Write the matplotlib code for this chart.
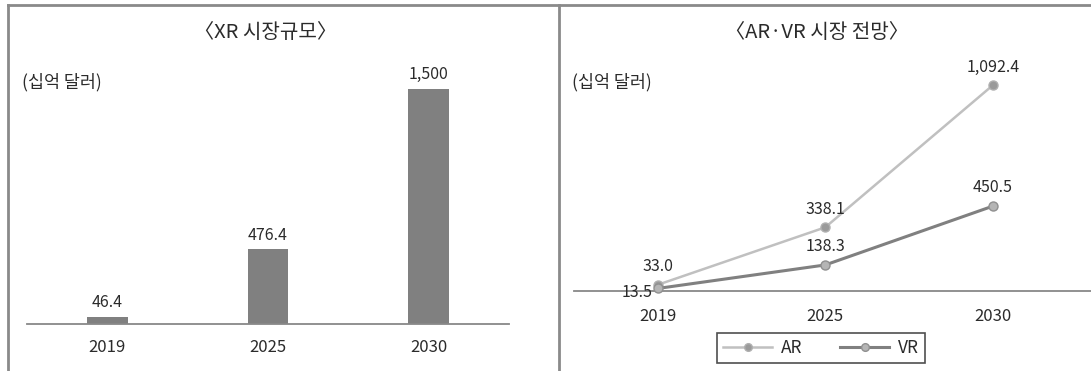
import matplotlib.pyplot as plt
from matplotlib.lines import Line2D

plt.rcParams['font.family'] = ['Noto Sans CJK KR', 'DejaVu Sans']

years = ['2019', '2025', '2030']
xr_size = [46.4, 476.4, 1500]
xr_labels = ['46.4', '476.4', '1,500']
ar_vals = [33.0, 338.1, 1092.4]
vr_vals = [13.5, 138.3, 450.5]
ar_labels = ['33.0', '338.1', '1,092.4']
vr_labels = ['13.5', '138.3', '450.5']

W, H = 1091, 371
fig = plt.figure(figsize=(W / 100, H / 100), dpi=100)
txt = '#2b2b2b'

def px_axes(x0, x1, ytop, ybot):
    return fig.add_axes([x0 / W, 1 - ybot / H, (x1 - x0) / W, (ybot - ytop) / H])

# ---- left panel: bars
ax1 = px_axes(27, 509, 60, 324)
x = range(len(years))
ax1.bar(x, xr_size, width=0.255, color='#808080')
ax1.set_xlim(-0.5, 2.5)
ax1.set_ylim(0, 1500 * 264 / 235)
for i, v in enumerate(xr_size):
    ax1.annotate(xr_labels[i], (i, v), xytext=(0, 4), textcoords='offset points',
                 ha='center', va='bottom', fontsize=11.5, color=txt)
ax1.set_xticks(list(x))
ax1.set_xticklabels(years, fontsize=12, color=txt)
ax1.tick_params(axis='x', length=0, pad=11)
ax1.set_yticks([])
for s in ['top', 'right', 'left']:
    ax1.spines[s].set_visible(False)
ax1.spines['bottom'].set_color('#888888')
ax1.spines['bottom'].set_linewidth(1.3)

fig.text(265 / W, 1 - 33 / H, '〈XR 시장규모〉', ha='center', va='center', fontsize=14.5, color=txt)
fig.text(22 / W, 1 - 82 / H, '(십억 달러)', ha='left', va='center', fontsize=12.5, color=txt)

# ---- right panel: lines
ax2 = px_axes(574, 1091, 40, 291)
ax2.set_xlim(-0.5, (1091 - 574) / 167.5 - 0.5)
ax2.set_ylim(0, 251 / 0.1883)
ax2.plot(x, ar_vals, color='#c0c0c0', lw=1.8, marker='o', ms=6.5,
         mfc='#9a9a9a', mec='#b0b0b0', label='AR', clip_on=False, zorder=3)
ax2.plot(x, vr_vals, color='#808080', lw=2.2, marker='o', ms=6.5,
         mfc='#b5b5b5', mec='#909090', label='VR', clip_on=False, zorder=4)
for i in range(3):
    ax2.annotate(ar_labels[i], (i, ar_vals[i]), xytext=(0, 7), textcoords='offset points',
                 ha='center', va='bottom', fontsize=11.5, color=txt)
    if i == 0:
        ax2.annotate(vr_labels[i], (i, vr_vals[i]), xytext=(-4, -3), textcoords='offset points',
                     ha='right', va='center', fontsize=11.5, color=txt)
    else:
        ax2.annotate(vr_labels[i], (i, vr_vals[i]), xytext=(0, 7), textcoords='offset points',
                     ha='center', va='bottom', fontsize=11.5, color=txt)
ax2.set_xticks(list(x))
ax2.set_xticklabels(years, fontsize=12, color=txt)
ax2.tick_params(axis='x', length=0, pad=12)
ax2.set_yticks([])
for s in ['top', 'right', 'left']:
    ax2.spines[s].set_visible(False)
ax2.spines['bottom'].set_color('#888888')
ax2.spines['bottom'].set_linewidth(1.3)

leg = ax2.legend(loc='center', bbox_to_anchor=((821 - 574) / (1091 - 574), (291 - 348) / 251),
                 ncol=2, fontsize=12.5, frameon=True, fancybox=False, handlelength=2.8,
                 columnspacing=2.2, borderpad=0.35, handletextpad=0.5, markerscale=0.85)
leg.get_frame().set_edgecolor('#222222')
leg.get_frame().set_linewidth(1.2)
for t in leg.get_texts():
    t.set_color(txt)

fig.text(817 / W, 1 - 33 / H, '〈AR·VR 시장 전망〉', ha='center', va='center', fontsize=14.5, color=txt)
fig.text(572 / W, 1 - 82 / H, '(십억 달러)', ha='left', va='center', fontsize=12.5, color=txt)

# ---- frame lines
frame = dict(color='#8a8a8a', lw=2, transform=fig.transFigure)
fig.add_artist(Line2D([8 / W, 1], [1 - 5 / H, 1 - 5 / H], **frame))
fig.add_artist(Line2D([8 / W, 8 / W], [0, 1 - 5 / H], **frame))
fig.add_artist(Line2D([559 / W, 559 / W], [0, 1 - 5 / H], **frame))

fig.savefig('out.png', dpi=100, facecolor='white')
